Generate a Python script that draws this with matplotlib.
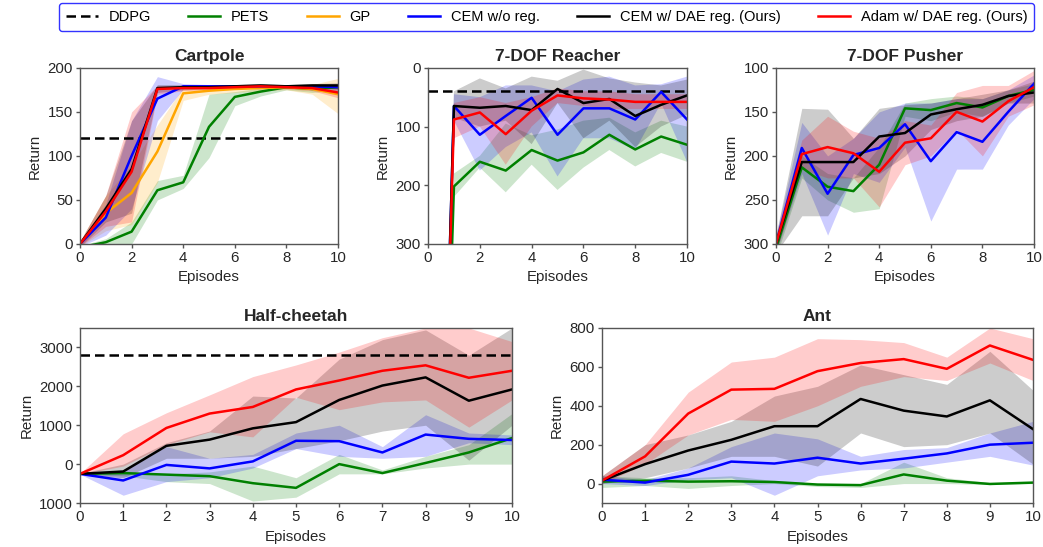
import numpy as np
import matplotlib
matplotlib.use("Agg")
import matplotlib.pyplot as plt

plt.rcParams['font.family'] = ['Liberation Sans', 'DejaVu Sans']

episodes = list(range(11))
colors = {'PETS': '#008000', 'GP': '#FFA500', 'CEM': '#0000FF', 'CEMDAE': '#000000', 'ADAM': '#FF0000'}
labels = {'PETS': 'PETS', 'GP': 'GP', 'CEM': 'CEM w/o reg.', 'CEMDAE': 'CEM w/ DAE reg. (Ours)',
          'ADAM': 'Adam w/ DAE reg. (Ours)'}

# ---------------- Cartpole ----------------
cart_ddpg = 120
cart_mean = {
    'PETS':   [-4, 2, 14, 61, 70, 133, 167, 173, 178, 176, 178],
    'GP':     [0, 35, 58, 105, 171, 174, 176, 177, 178, 176, 170],
    'CEM':    [0, 30, 100, 165, 179, 179, 179, 179, 179, 179, 178],
    'CEMDAE': [0, 40, 85, 177, 178, 178, 179, 180, 179, 180, 180],
    'ADAM':   [0, 37, 82, 176, 177, 177, 178, 179, 178, 177, 172],
}
cart_lo = {
    'PETS':   [-6, -2, 0, 50, 63, 98, 157, 168, 175, 172, 175],
    'GP':     [-3, 15, 22, 70, 163, 170, 172, 174, 175, 170, 148],
    'CEM':    [-3, 10, 40, 140, 176, 177, 177, 177, 177, 176, 174],
    'CEMDAE': [-3, 25, 35, 172, 175, 176, 177, 178, 177, 178, 176],
    'ADAM':   [-3, 20, 25, 170, 174, 175, 176, 177, 176, 174, 166],
}
cart_hi = {
    'PETS':   [-2, 6, 25, 72, 78, 170, 173, 177, 180, 179, 180],
    'GP':     [3, 55, 90, 135, 178, 178, 179, 179, 180, 181, 188],
    'CEM':    [3, 45, 140, 190, 182, 181, 181, 181, 181, 181, 181],
    'CEMDAE': [3, 55, 140, 181, 181, 180, 181, 182, 181, 182, 183],
    'ADAM':   [3, 55, 150, 180, 180, 179, 180, 181, 180, 180, 178],
}

# ---------------- 7-DOF Reacher ----------------
reach_ddpg = 40
reach_mean = {
    'PETS':   [1600, 202, 160, 175, 140, 158, 144, 114, 139, 117, 131],
    'CEM':    [1600, 65, 114, 82, 51, 114, 69, 69, 88, 41, 88],
    'CEMDAE': [1600, 65, 68, 65, 72, 36, 60, 53, 82, 63, 47],
    'ADAM':   [1600, 88, 76, 113, 73, 47, 52, 54, 58, 58, 58],
}
reach_lo = {
    'PETS':   [1550, 180, 150, 95, 115, 105, 90, 85, 110, 90, 100],
    'CEM':    [1550, 45, 50, 30, 30, 40, 20, 15, 30, 28, 15],
    'CEMDAE': [1550, 40, 18, 35, 15, 22, 3, 18, 25, 30, 20],
    'ADAM':   [1550, 60, 50, 60, 50, 35, 40, 40, 45, 45, 45],
}
reach_hi = {
    'PETS':   [1650, 220, 170, 212, 165, 208, 170, 140, 168, 145, 160],
    'CEM':    [1650, 90, 175, 135, 110, 185, 120, 120, 140, 60, 160],
    'CEMDAE': [1650, 85, 100, 90, 130, 60, 120, 90, 135, 100, 80],
    'ADAM':   [1650, 120, 100, 165, 100, 60, 65, 70, 70, 70, 70],
}

# ---------------- 7-DOF Pusher ----------------
push_mean = {
    'PETS':   [305, 213, 235, 240, 210, 146, 148, 140, 145, 132, 125],
    'CEM':    [300, 191, 243, 199, 191, 164, 206, 173, 184, 150, 118],
    'CEMDAE': [300, 207, 207, 207, 178, 174, 153, 147, 142, 132, 128],
    'ADAM':   [300, 198, 190, 197, 218, 185, 180, 150, 161, 138, 122],
}
push_lo = {
    'PETS':   [295, 200, 220, 225, 190, 140, 135, 132, 135, 125, 118],
    'CEM':    [290, 162, 200, 180, 150, 140, 140, 135, 135, 125, 108],
    'CEMDAE': [290, 146, 147, 180, 146, 142, 140, 135, 130, 125, 115],
    'ADAM':   [290, 182, 155, 172, 180, 160, 165, 128, 120, 120, 103],
}
push_hi = {
    'PETS':   [315, 225, 250, 264, 260, 155, 160, 150, 155, 140, 132],
    'CEM':    [310, 220, 290, 220, 230, 190, 274, 215, 215, 165, 135],
    'CEMDAE': [310, 268, 268, 225, 220, 200, 170, 160, 155, 140, 140],
    'ADAM':   [310, 215, 225, 225, 258, 210, 200, 170, 200, 155, 142],
}

# ---------------- Half-cheetah ----------------
hc_ddpg = 2800
hc_mean = {
    'PETS':   [-250, -230, -270, -310, -490, -610, 0, -230, 30, 300, 670],
    'CEM':    [-250, -420, -20, -110, 70, 600, 590, 300, 760, 650, 620],
    'CEMDAE': [-250, -190, 470, 630, 920, 1080, 1650, 2020, 2230, 1630, 1920],
    'ADAM':   [-250, 230, 930, 1300, 1470, 1920, 2150, 2400, 2540, 2220, 2400],
}
hc_lo = {
    'PETS':   [-260, -300, -450, -500, -950, -850, -250, -250, -100, 0, 0],
    'CEM':    [-260, -800, -450, -350, -100, 400, 200, 150, 200, 550, 500],
    'CEMDAE': [-260, -350, 150, 150, 200, 400, 600, 850, 1000, 100, 1000],
    'ADAM':   [-260, -50, 500, 830, 700, 1720, 1400, 1600, 1650, 950, 1650],
}
hc_hi = {
    'PETS':   [-240, -200, -250, -200, -50, -350, 250, -150, 200, 500, 1300],
    'CEM':    [-240, -150, 450, 150, 250, 800, 1000, 450, 1270, 800, 750],
    'CEMDAE': [-240, 0, 550, 850, 1750, 1700, 2700, 3200, 3450, 2800, 3500],
    'ADAM':   [-240, 780, 1320, 1780, 2250, 2550, 2880, 3250, 3500, 3500, 3150],
}

# ---------------- Ant ----------------
ant_mean = {
    'PETS':   [10, 15, 10, 12, 8, -5, -8, 47, 15, -2, 5],
    'CEM':    [20, 5, 45, 113, 103, 133, 103, 128, 155, 200, 210],
    'CEMDAE': [15, 100, 170, 225, 295, 295, 435, 375, 345, 428, 280],
    'ADAM':   [15, 140, 360, 483, 487, 578, 620, 640, 590, 710, 636],
}
ant_lo = {
    'PETS':   [-20, -10, -25, -10, 0, -15, -20, 0, 0, -5, 0],
    'CEM':    [0, -10, 20, 30, -60, 40, 70, 80, 110, 140, 95],
    'CEMDAE': [0, 30, 80, 140, 140, 90, 260, 190, 200, 260, 100],
    'ADAM':   [0, 100, 250, 330, 320, 400, 500, 550, 530, 620, 530],
}
ant_hi = {
    'PETS':   [40, 30, 30, 40, 15, 0, 0, 110, 30, 5, 10],
    'CEM':    [40, 20, 80, 190, 260, 230, 140, 175, 185, 260, 320],
    'CEMDAE': [40, 200, 250, 320, 450, 500, 610, 560, 510, 680, 480],
    'ADAM':   [40, 200, 470, 625, 650, 745, 740, 725, 650, 800, 745],
}

hc_yticks = [-1000, 0, 1000, 2000, 3000]
hc_yticklabels = ['1000', '0', '1000', '2000', '3000']

fig = plt.figure(figsize=(10.43, 5.47), dpi=100)

spine_col = '#555555'
txt_col = '#262626'
dash = (3.8, 2.0)


def style(ax, title):
    ax.set_title(title, fontsize=12.5, fontweight='bold', color=txt_col, pad=5)
    ax.set_xlabel('Episodes', fontsize=10.8, color=txt_col, labelpad=4)
    ax.set_ylabel('Return', fontsize=10.8, color=txt_col, labelpad=4)
    for s in ax.spines.values():
        s.set_color(spine_col)
        s.set_linewidth(1.0)
    ax.tick_params(labelsize=10.8, colors=txt_col, length=3, width=1, pad=2)
    ax.tick_params(color=spine_col)


def draw(ax, mean, lo, hi, order):
    for k in order:
        ax.fill_between(episodes, lo[k], hi[k], color=colors[k], alpha=0.2, linewidth=0)
    for k in order:
        ax.plot(episodes, mean[k], color=colors[k], lw=1.8, label=labels[k])


order_all = ['PETS', 'GP', 'CEM', 'CEMDAE', 'ADAM']
order4 = ['PETS', 'CEM', 'CEMDAE', 'ADAM']

ax1 = fig.add_axes([0.0767, 0.554, 0.2474, 0.322])
ax1.axhline(cart_ddpg, color='black', ls='--', lw=1.8, dashes=dash, label='DDPG')
draw(ax1, cart_mean, cart_lo, cart_hi, order_all)
ax1.set_xlim(0, 10)
ax1.set_ylim(0, 200)
ax1.set_xticks([0, 2, 4, 6, 8, 10])
ax1.set_yticks([0, 50, 100, 150, 200])
style(ax1, 'Cartpole')

ax2 = fig.add_axes([0.4104, 0.554, 0.2483, 0.322])
ax2.axhline(reach_ddpg, color='black', ls='--', lw=1.8, dashes=dash)
draw(ax2, reach_mean, reach_lo, reach_hi, order4)
ax2.set_xlim(0, 10)
ax2.set_ylim(300, 0)
ax2.set_xticks([0, 2, 4, 6, 8, 10])
ax2.set_yticks([0, 100, 200, 300])
style(ax2, '7-DOF Reacher')

ax3 = fig.add_axes([0.744, 0.554, 0.2474, 0.322])
draw(ax3, push_mean, push_lo, push_hi, order4)
ax3.set_xlim(0, 10)
ax3.set_ylim(300, 100)
ax3.set_xticks([0, 2, 4, 6, 8, 10])
ax3.set_yticks([100, 150, 200, 250, 300])
style(ax3, '7-DOF Pusher')

ax4 = fig.add_axes([0.0767, 0.0804, 0.4142, 0.32])
ax4.axhline(hc_ddpg, color='black', ls='--', lw=1.8, dashes=dash)
draw(ax4, hc_mean, hc_lo, hc_hi, order4)
ax4.set_xlim(0, 10)
ax4.set_ylim(-1000, 3500)
ax4.set_xticks(episodes)
ax4.set_yticks(hc_yticks)
ax4.set_yticklabels(hc_yticklabels)
style(ax4, 'Half-cheetah')

ax5 = fig.add_axes([0.5772, 0.0804, 0.4132, 0.32])
draw(ax5, ant_mean, ant_lo, ant_hi, order4)
ax5.set_xlim(0, 10)
ax5.set_ylim(-100, 800)
ax5.set_xticks(episodes)
ax5.set_yticks([0, 200, 400, 600, 800])
style(ax5, 'Ant')

handles, labs = ax1.get_legend_handles_labels()
leg = fig.legend(handles, labs, loc='center', bbox_to_anchor=(0.524, 0.969), ncol=6,
                 fontsize=10.5, frameon=True, fancybox=True, handlelength=2.2,
                 columnspacing=2.55, handletextpad=0.75, borderpad=0.45)
leg.get_frame().set_edgecolor('#0000FF')
leg.get_frame().set_linewidth(1.0)

fig.savefig('out.png', dpi=100)
